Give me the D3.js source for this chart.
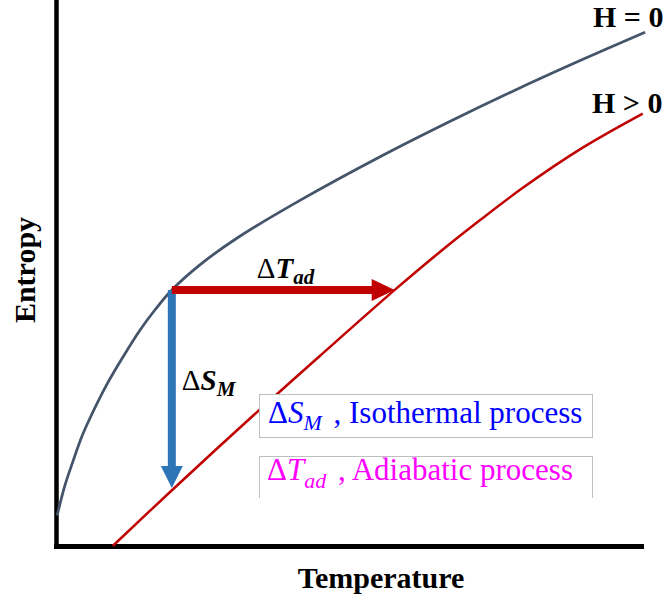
<!DOCTYPE html>
<html>
<head>
<meta charset="utf-8">
<script src="https://cdn.jsdelivr.net/npm/d3@7"></script>
<style>
  html, body { margin: 0; padding: 0; background: #ffffff; }
  svg { display: block; }
  text { font-family: "Liberation Serif", "Times New Roman", serif; }
</style>
</head>
<body>
<svg id="chart" width="672" height="607"></svg>
<script>
// Entropy vs temperature, zero field (H = 0) and applied field (H > 0)
const seriesNames = ["H = 0", "H > 0"];
const tempH0 = [0.02, 0.15, 0.29, 0.44, 0.58, 0.87, 1.15, 1.44, 1.71, 1.98, 2.46, 3.11, 4.17, 5.54, 6.74, 7.81, 8.96, 10.07];
const entropyH0 = [0.56, 1.10, 1.55, 2.00, 2.34, 2.96, 3.47, 3.96, 4.35, 4.69, 5.15, 5.65, 6.33, 7.13, 7.78, 8.33, 8.89, 9.41];
const tempH1 = [0.97, 2.00, 3.32, 4.51, 5.79, 6.51, 7.25, 7.98, 9.01, 10.03];
const entropyH1 = [0.00, 1.04, 2.34, 3.48, 4.69, 5.34, 5.97, 6.56, 7.30, 7.92];

// Isothermal step (ΔS_M) and adiabatic step (ΔT_ad), as [T, S] end points
const isothermalStep = [[1.98, 4.69], [1.98, 1.06]];
const adiabaticStep = [[1.98, 4.69], [5.79, 4.69]];

const axisTitles = ["Temperature", "Entropy"];

const svg = d3.select("#chart");
const x = d3.scaleLinear().domain([0, 10]).range([56, 641]);
const y = d3.scaleLinear().domain([0, 10]).range([546, 0]);

// axes: plain heavy lines, no ticks
const xAxis = svg.append("g")
  .attr("transform", `translate(0,${y(0)})`)
  .call(d3.axisBottom(x).ticks(0).tickSizeOuter(0));
const yAxis = svg.append("g")
  .attr("transform", `translate(${x(0)},0)`)
  .call(d3.axisLeft(y).ticks(0).tickSizeOuter(0));
[xAxis, yAxis].forEach(g => {
  g.selectAll("text").remove();
  g.select(".domain").attr("stroke", "#000").attr("stroke-linecap", "square");
});
xAxis.select(".domain").attr("stroke-width", 5);
yAxis.select(".domain").attr("stroke-width", 4.5);

// curves
const line = d3.line().x(d => x(d[0])).y(d => y(d[1])).curve(d3.curveCatmullRom.alpha(0.5));
const h0 = tempH0.map((t, i) => [t, entropyH0[i]]);
const h1 = tempH1.map((t, i) => [t, entropyH1[i]]);
svg.append("path").datum(h0).attr("d", line)
  .attr("fill", "none").attr("stroke", "#44546A").attr("stroke-width", 2.75);
svg.append("path").datum(h1).attr("d", line)
  .attr("fill", "none").attr("stroke", "#C00000").attr("stroke-width", 2.5);

// arrow: shaft plus solid triangular head
function arrow(pts, color, shaftW, headL, headW) {
  const x0 = x(pts[0][0]), y0 = y(pts[0][1]);
  const x1 = x(pts[1][0]), y1 = y(pts[1][1]);
  const len = Math.hypot(x1 - x0, y1 - y0);
  const ux = (x1 - x0) / len, uy = (y1 - y0) / len;
  const px = -uy, py = ux;
  const bx = x1 - ux * headL, by = y1 - uy * headL;
  svg.append("line")
    .attr("x1", x0).attr("y1", y0).attr("x2", bx + ux).attr("y2", by + uy)
    .attr("stroke", color).attr("stroke-width", shaftW);
  svg.append("path")
    .attr("d", `M${x1},${y1}L${bx + px * headW / 2},${by + py * headW / 2}L${bx - px * headW / 2},${by - py * headW / 2}Z`)
    .attr("fill", color);
}
arrow(isothermalStep, "#2E75B6", 8, 22, 22);
arrow(adiabaticStep, "#C00000", 8, 23, 22);

// step labels
const tLab = svg.append("text")
  .attr("x", x(adiabaticStep[0][0]) + 85).attr("y", y(adiabaticStep[0][1]) - 12)
  .attr("font-size", 29).attr("fill", "#000");
tLab.append("tspan").text("Δ");
tLab.append("tspan").attr("font-weight", "bold").attr("font-style", "italic").text("T");
tLab.append("tspan").attr("font-weight", "bold").attr("font-style", "italic")
  .attr("font-size", 21).attr("dy", 6).text("ad");

const sLab = svg.append("text")
  .attr("x", x(isothermalStep[0][0]) + 10).attr("y", y(isothermalStep[0][1]) + 100)
  .attr("font-size", 29).attr("fill", "#000");
sLab.append("tspan").text("Δ");
sLab.append("tspan").attr("font-weight", "bold").attr("font-style", "italic").text("S");
sLab.append("tspan").attr("font-weight", "bold").attr("font-style", "italic")
  .attr("font-size", 21).attr("dy", 6).text("M");

// series labels at the curve ends
svg.append("text").attr("x", 593).attr("y", 27)
  .attr("font-size", 30).attr("font-weight", "bold").text(seriesNames[0]);
svg.append("text").attr("x", 592).attr("y", 113)
  .attr("font-size", 30).attr("font-weight", "bold").text(seriesNames[1]);

// process key boxes
svg.append("rect").attr("x", 259.5).attr("y", 394.5).attr("width", 333).attr("height", 43)
  .attr("fill", "#fff").attr("stroke", "#bfbfbf").attr("stroke-width", 1);
svg.append("path").attr("d", "M259.5,498V456.5H592.5V498")
  .attr("fill", "#fff").attr("stroke", "#bfbfbf").attr("stroke-width", 1);

const k1 = svg.append("text").attr("x", 268).attr("y", 423)
  .attr("font-size", 31).attr("fill", "#0000FF");
k1.append("tspan").text("Δ");
k1.append("tspan").attr("font-style", "italic").text("S");
k1.append("tspan").attr("font-style", "italic").attr("font-size", 22).attr("dy", 7).text("M");
k1.append("tspan").attr("dy", -7).attr("dx", 4).text(" , Isothermal process");

const k2 = svg.append("text").attr("x", 267).attr("y", 480)
  .attr("font-size", 31).attr("fill", "#FF00FF");
k2.append("tspan").text("Δ");
k2.append("tspan").attr("font-style", "italic").text("T");
k2.append("tspan").attr("font-style", "italic").attr("font-size", 22).attr("dy", 8).text("ad");
k2.append("tspan").attr("dy", -8).attr("dx", 4).text(" , Adiabatic process");

// axis titles
svg.append("text").attr("x", 381).attr("y", 588)
  .attr("text-anchor", "middle").attr("font-size", 30).attr("font-weight", "bold")
  .text(axisTitles[0]);
svg.append("text").attr("transform", "translate(35,270) rotate(-90)")
  .attr("text-anchor", "middle").attr("font-size", 30).attr("font-weight", "bold")
  .text(axisTitles[1]);
</script>
</body>
</html>
